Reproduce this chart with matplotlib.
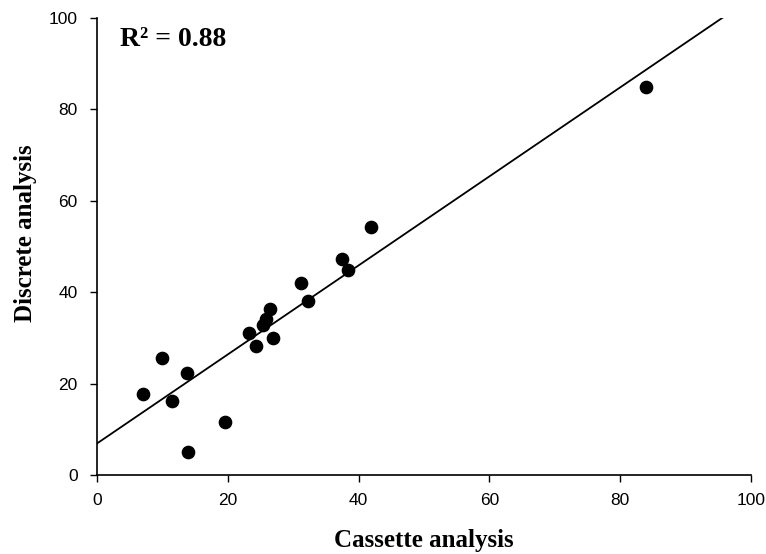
import matplotlib
matplotlib.use("Agg")
import matplotlib.pyplot as plt
import numpy as np

# Paired measurements: cassette vs. discrete analysis
cassette = [7.1, 10.0, 11.4, 13.7, 13.9, 19.6, 23.2, 24.3, 25.4, 25.8,
            26.4, 26.9, 31.2, 32.2, 37.5, 38.4, 41.9, 84.0]
discrete = [17.7, 25.7, 16.2, 22.3, 5.0, 11.7, 31.1, 28.3, 32.8, 34.1,
            36.3, 29.9, 42.1, 38.1, 47.2, 44.9, 54.3, 84.9]

# Fitted regression line
fit_slope = 0.974
fit_intercept = 6.9
r_squared = 0.88

x_ticks = [0, 20, 40, 60, 80, 100]
y_ticks = [0, 20, 40, 60, 80, 100]

fig = plt.figure(figsize=(7.66, 5.54), dpi=100)
ax = fig.add_axes([0.1266, 0.1426, 0.8538, 0.8249])

xs = np.array([0, 100])
ax.plot(xs, fit_intercept + fit_slope * xs, color="black", lw=1.3, zorder=2)
ax.scatter(cassette, discrete, s=78, color="black", zorder=3, clip_on=False)

ax.set_xlim(0, 100)
ax.set_ylim(0, 100)
ax.set_xticks(x_ticks)
ax.set_yticks(y_ticks)

for s in ("top", "right"):
    ax.spines[s].set_visible(False)
for s in ("left", "bottom"):
    ax.spines[s].set_linewidth(1.2)

ax.tick_params(direction="out", length=5, width=1, labelsize=12.5)
ax.tick_params(axis="x", pad=8)
ax.tick_params(axis="y", pad=9)
for lab in ax.get_xticklabels() + ax.get_yticklabels():
    lab.set_fontfamily("Liberation Sans")

serif_bold = dict(fontfamily="Liberation Serif", fontweight="bold")
ax.set_xlabel("Cassette analysis", fontsize=18, labelpad=15, **serif_bold)
ax.set_ylabel("Discrete analysis", fontsize=18, **serif_bold)
ax.yaxis.set_label_coords(-0.092, 0.53)

ax.text(3.5, 95.2, "R\u00b2 = %.2f" % r_squared, fontsize=20,
        va="center", ha="left", **serif_bold)

fig.savefig("out.png", dpi=100)
